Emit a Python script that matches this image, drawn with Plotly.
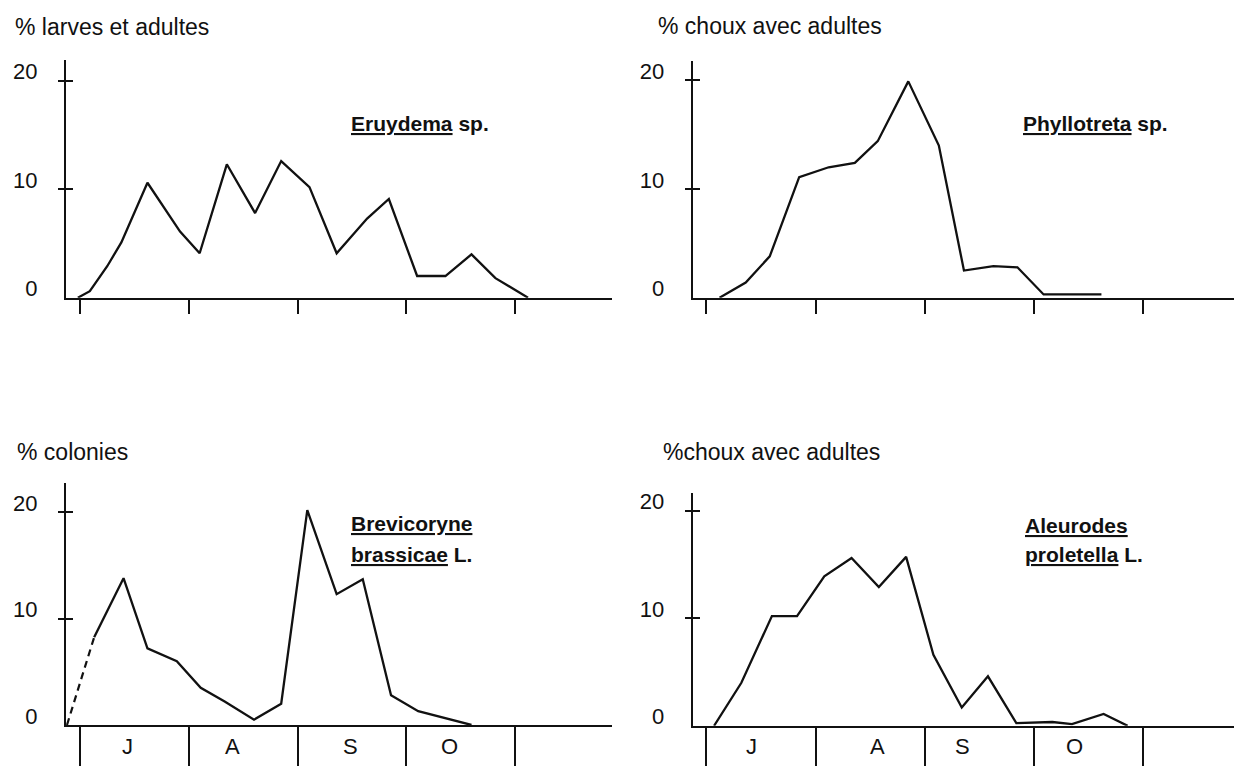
import plotly.graph_objects as go

# ---------------- data (x in months from 1 July, y in %) ----------------
months = ["J", "A", "S", "O"]
month_bounds = [0, 1, 2, 3, 4]
y_tick_vals = [0, 10, 20]
y_tick_text = ["0", "10", "20"]

eruydema_x = [-0.02, 0.09, 0.25, 0.38, 0.62, 0.92, 1.10, 1.35, 1.61, 1.85,
              2.11, 2.36, 2.64, 2.84, 3.10, 3.36, 3.60, 3.82, 4.12]
eruydema_y = [0, 0.6, 2.9, 5.1, 10.6, 6.1, 4.1, 12.3, 7.8, 12.6,
              10.2, 4.1, 7.3, 9.1, 2.0, 2.0, 4.0, 1.8, 0]

phyllotreta_x = [0.12, 0.36, 0.58, 0.85, 1.12, 1.36, 1.57, 1.85, 2.13, 2.36,
                 2.63, 2.85, 3.09, 3.62]
phyllotreta_y = [0, 1.4, 3.8, 11.1, 12.0, 12.4, 14.4, 19.9, 14.0, 2.5,
                 2.9, 2.8, 0.3, 0.3]

brevicoryne_dash_x = [-0.12, 0.13]
brevicoryne_dash_y = [0, 8.25]
brevicoryne_x = [0.13, 0.40, 0.62, 0.89, 1.11, 1.33, 1.60, 1.85, 2.09, 2.36,
                 2.60, 2.86, 3.11, 3.60]
brevicoryne_y = [8.25, 13.8, 7.2, 6.0, 3.5, 2.2, 0.5, 2.0, 20.2, 12.3,
                 13.7, 2.8, 1.3, 0]

aleurodes_x = [0.07, 0.32, 0.60, 0.83, 1.08, 1.33, 1.58, 1.83, 2.08, 2.34,
               2.58, 2.84, 3.17, 3.35, 3.64, 3.86]
aleurodes_y = [0, 4.0, 10.2, 10.2, 13.9, 15.6, 12.9, 15.7, 6.6, 1.7,
               4.6, 0.25, 0.35, 0.15, 1.1, 0]

# ---------------- layout helpers ----------------
W, H = 1234, 766
FONT = "Liberation Sans, Arial, sans-serif"
INK = "#111111"


def fx(p):
    return p / W


def fy(p):
    return 1 - p / H


panels = [
    dict(n="", ov="5", xdom=(66, 612), ydom=(58, 299), xr=(-0.129, 4.892), yr=(0, 21.9), tl=14),
    dict(n="2", ov="6", xdom=(692.7, 1234), ydom=(59, 299), xr=(-0.126, 4.835), yr=(0, 21.76), tl=14),
    dict(n="3", ov="7", xdom=(66, 612), ydom=(486.7, 732.5), xr=(-0.129, 4.892), yr=(0, 22.78), tl=40),
    dict(n="4", ov="8", xdom=(692.7, 1234), ydom=(496.7, 733.3), xr=(-0.126, 4.835), yr=(0, 21.68), tl=40),
]

fig = go.Figure()

line = dict(color=INK, width=2.3)
fig.add_trace(go.Scatter(x=eruydema_x, y=eruydema_y, mode="lines", line=line,
                         xaxis="x", yaxis="y", showlegend=False))
fig.add_trace(go.Scatter(x=phyllotreta_x, y=phyllotreta_y, mode="lines", line=line,
                         xaxis="x2", yaxis="y2", showlegend=False))
fig.add_trace(go.Scatter(x=brevicoryne_dash_x, y=brevicoryne_dash_y, mode="lines",
                         line=dict(color=INK, width=2.2, dash="7px,5px"),
                         xaxis="x3", yaxis="y3", showlegend=False))
fig.add_trace(go.Scatter(x=brevicoryne_x, y=brevicoryne_y, mode="lines", line=line,
                         xaxis="x3", yaxis="y3", showlegend=False))
fig.add_trace(go.Scatter(x=aleurodes_x, y=aleurodes_y, mode="lines", line=line,
                         xaxis="x4", yaxis="y4", showlegend=False))

# empty traces so the overlay axes (outer half of the crossing y ticks) get drawn
for p in panels:
    fig.add_trace(go.Scatter(x=[], y=[], mode="lines", showlegend=False,
                             hoverinfo="skip",
                             xaxis="x" + p["n"], yaxis="y" + p["ov"]))

layout = dict(
    width=W, height=H,
    margin=dict(l=0, r=0, t=0, b=0),
    paper_bgcolor="white", plot_bgcolor="rgba(0,0,0,0)",
    font=dict(family=FONT, color=INK),
    showlegend=False,
)

for p in panels:
    n, ov = p["n"], p["ov"]
    layout["xaxis" + n] = dict(
        domain=[fx(p["xdom"][0]), fx(p["xdom"][1])],
        range=list(p["xr"]), anchor="y" + n,
        showgrid=False, zeroline=False,
        showline=True, linecolor=INK, linewidth=2,
        tickmode="array", tickvals=month_bounds,
        ticks="outside", ticklen=p["tl"], tickwidth=2, tickcolor=INK,
        showticklabels=False, fixedrange=True,
    )
    layout["yaxis" + n] = dict(
        domain=[fy(p["ydom"][1]), fy(p["ydom"][0])],
        range=list(p["yr"]), anchor="x" + n,
        showgrid=False, zeroline=False,
        showline=True, linecolor=INK, linewidth=2,
        tickmode="array", tickvals=y_tick_vals, ticktext=y_tick_text,
        ticks="inside", ticklen=7, tickwidth=2, tickcolor=INK,
        tickfont=dict(family=FONT, size=22, color=INK),
        ticklabelshift=-9, ticklabelstandoff=22,
        fixedrange=True,
    )
    layout["yaxis" + ov] = dict(
        overlaying="y" + n, anchor="x" + n, side="left",
        range=list(p["yr"]),
        showgrid=False, zeroline=False, showline=False,
        tickmode="array", tickvals=y_tick_vals[1:],
        ticks="outside", ticklen=7, tickwidth=2, tickcolor=INK,
        showticklabels=False, fixedrange=True,
    )

annotations = []


def text(s, x, y, size, bold=False, xanchor="left"):
    annotations.append(dict(
        text=("<b>%s</b>" % s) if bold else s,
        x=fx(x), y=fy(y), xref="paper", yref="paper",
        xanchor=xanchor, yanchor="middle", showarrow=False,
        font=dict(family=FONT, size=size, color=INK),
    ))


# axis titles
text("% larves et adultes", 13, 24, 23)
text("% choux avec adultes", 656, 23, 23)
text("% colonies", 15, 456, 23)
text("%choux avec adultes", 661, 456, 23)

# species names
text("<u>Eruydema</u> sp.", 349, 122, 21, bold=True)
text("<u>Phyllotreta</u> sp.", 1021, 122, 21, bold=True)
text("<u>Brevicoryne</u>", 349, 528, 21, bold=True)
text("<u>brassicae</u> L.", 349, 560, 21, bold=True)
text("<u>Aleurodes</u>", 1023, 530, 21, bold=True)
text("<u>proletella</u> L.", 1023, 560, 21, bold=True)

# month labels (in month units on the bottom panels' x axes)
month_pos_left = [0.44, 1.40, 2.49, 3.40]
month_pos_right = [0.41, 1.57, 2.35, 3.37]
for xa, pos in (("x3", month_pos_left), ("x4", month_pos_right)):
    for m, xm in zip(months, pos):
        annotations.append(dict(
            text=m, x=xm, y=fy(754), xref=xa, yref="paper",
            xanchor="center", yanchor="middle", showarrow=False,
            font=dict(family=FONT, size=22, color=INK),
        ))

layout["annotations"] = annotations
fig.update_layout(**layout)

fig.write_html("out.html", config={"displayModeBar": False})
